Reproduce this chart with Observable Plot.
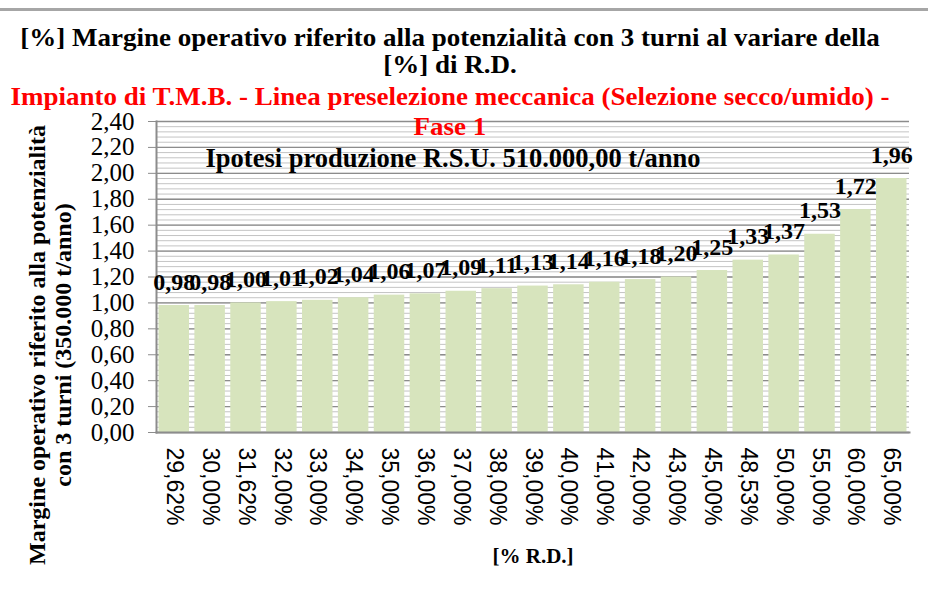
<!DOCTYPE html>
<html>
<head>
<meta charset="utf-8">
<script src="https://cdn.jsdelivr.net/npm/d3@7"></script>
<script src="https://cdn.jsdelivr.net/npm/@observablehq/plot@0.6"></script>
<style>
  body { margin: 0; background: #fff; }
  #wrap { position: relative; width: 928px; height: 593px; overflow: hidden; background: #fff; }
  #chart { position: absolute; left: 0; top: 0; }
  .topline { position: absolute; left: 0; top: 8px; width: 928px; height: 3px; background: #a6a6a6; }
  .t { position: absolute; left: 0; width: 900px; text-align: center; font-family: "Liberation Serif", "Times New Roman", serif; font-weight: bold; font-size: 25px; line-height: 28px; white-space: nowrap; transform: scaleX(1.08); transform-origin: 450px 50%; }
  .red { color: #ff0000; }
</style>
</head>
<body>
<div id="wrap">
  <div id="chart"></div>
  <div class="topline"></div>
  <div class="t" style="top:24px">[%] Margine operativo riferito alla potenzialità con 3 turni al variare della</div>
  <div class="t" style="top:51px">[%] di R.D.</div>
  <div class="t red" style="top:83px">Impianto di T.M.B. - Linea preselezione meccanica (Selezione secco/umido) -</div>
  <div class="t red" style="top:113px">Fase 1</div>
</div>
<script>
const categories = ["29,62%","30,00%","31,62%","32,00%","33,00%","34,00%","35,00%","36,00%","37,00%","38,00%","39,00%","40,00%","41,00%","42,00%","43,00%","45,00%","48,53%","50,00%","55,00%","60,00%","65,00%"];
const values = [0.98,0.98,1.00,1.01,1.02,1.04,1.06,1.07,1.09,1.11,1.13,1.14,1.16,1.18,1.20,1.25,1.33,1.37,1.53,1.72,1.96];
const yTicks = [0,0.2,0.4,0.6,0.8,1.0,1.2,1.4,1.6,1.8,2.0,2.2,2.4];
const minorTicks = d3.range(0, 61).map(i => i * 0.04);
const yTitle = "Margine operativo riferito alla potenzialità\ncon 3 turni (350.000 t/anno)";
const xTitle = "[% R.D.]";
const note = "Ipotesi produzione R.S.U. 510.000,00 t/anno";

const data = categories.map((c, i) => ({cat: c, val: values[i]}));
const comma = d => d.toFixed(2).replace(".", ",");
const serif = "Liberation Serif, Times New Roman, serif";

const chart = Plot.plot({
  width: 928,
  height: 593,
  marginTop: 121,
  marginBottom: 161,
  marginLeft: 156,
  marginRight: 19,
  style: {background: "transparent", color: "#000"},
  x: {domain: categories, paddingInner: 0.15, paddingOuter: 0.07, round: false, label: null},
  y: {domain: [0, 2.4], label: null},
  marks: [
    Plot.ruleY(minorTicks, {stroke: "#c4c4c4", strokeWidth: 1}),
    Plot.ruleY(yTicks, {stroke: "#8c8c8c", strokeWidth: 1.3}),
    Plot.barY(data, {x: "cat", y: "val", fill: "#d7e4bd"}),
    Plot.frame({anchor: "left", stroke: "#8c8c8c", strokeWidth: 2}),
    Plot.frame({anchor: "bottom", stroke: "#8c8c8c", strokeWidth: 2}),
    Plot.axisY({ticks: yTicks, tickFormat: comma, tickSize: 8, tickPadding: 14, fontSize: 25, fontFamily: serif, stroke: "#8c8c8c", label: null}),
    Plot.axisX({tickRotate: 90, tickSize: 0, tickPadding: 15, fontSize: 23, fontFamily: "Liberation Sans, Arial, sans-serif", label: null}),
    Plot.text(data, {x: "cat", y: "val", text: d => comma(d.val), lineAnchor: "bottom", dy: -16, fontSize: 24, fontWeight: "bold", fontFamily: serif, fill: "#000"}),
    Plot.text([note], {frameAnchor: "top-left", textAnchor: "start", lineAnchor: "middle", dx: 49, dy: 37, fontSize: 26.5, fontWeight: "bold", fontFamily: serif, fill: "#000"}),
    Plot.text([yTitle], {frameAnchor: "left", textAnchor: "middle", rotate: -90, lineAnchor: "middle", lineHeight: 1.08, dx: -107, dy: 68, fontSize: 24, fontWeight: "bold", fontFamily: serif, fill: "#000"}),
    Plot.text([xTitle], {frameAnchor: "bottom", lineAnchor: "middle", dy: 124, fontSize: 21, fontWeight: "bold", fontFamily: serif, fill: "#000"})
  ]
});
document.getElementById("chart").appendChild(chart);
</script>
</body>
</html>
